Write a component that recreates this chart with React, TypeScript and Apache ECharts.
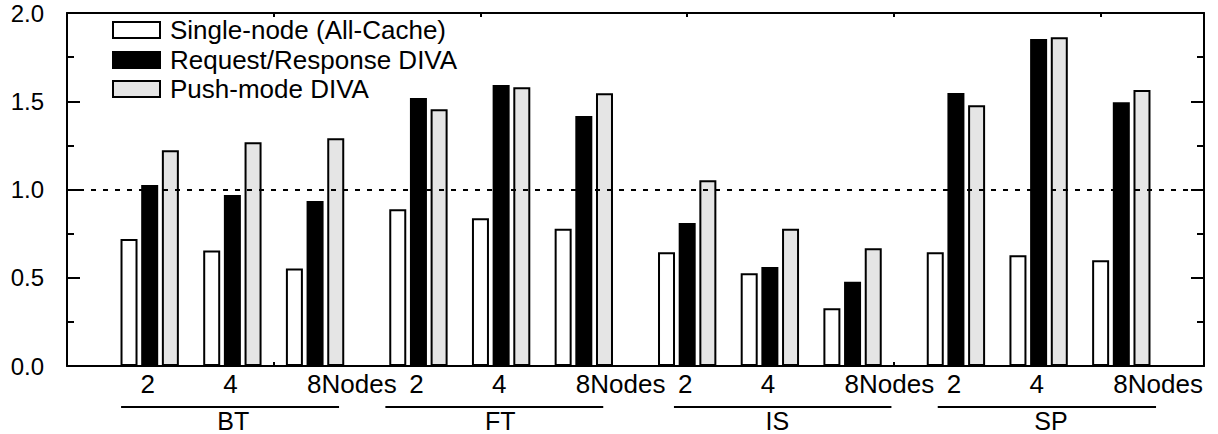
import React, { useEffect, useRef } from "react";
import * as echarts from "echarts";

// ---- data ----
const groups = ["BT", "FT", "IS", "SP"];
const nodeLabels = ["2", "4", "8Nodes"];
const seriesNames = ["Single-node (All-Cache)", "Request/Response DIVA", "Push-mode DIVA"];
const singleNode = [0.72, 0.655, 0.553, 0.888, 0.837, 0.778, 0.644, 0.525, 0.327, 0.644, 0.627, 0.599];
const requestResponse = [1.025, 0.969, 0.935, 1.518, 1.592, 1.416, 0.81, 0.561, 0.478, 1.547, 1.853, 1.494];
const pushMode = [1.222, 1.267, 1.29, 1.454, 1.579, 1.545, 1.052, 0.778, 0.667, 1.477, 1.862, 1.564];

// ---- layout (axis units) ----
const X_MIN = 0;
const X_MAX = 13.75;
const GROUP_STEP = 3.25;
const BAR_OFFSET = 0.25;
const groupSpans = [
  [0.654, 3.29, 2.01],
  [3.85, 6.485, 5.24],
  [7.34, 9.97, 8.59],
  [10.53, 13.17, 11.9],
];

const clusterPos = (i: number) => 1 + (i % 3) + Math.floor(i / 3) * GROUP_STEP;

const FONT = "'Liberation Sans', Arial, Helvetica, sans-serif";
const colors = ["#ffffff", "#000000", "#e5e5e5"];

export default function App() {
  const ref = useRef<HTMLDivElement>(null);

  useEffect(() => {
    if (!ref.current) return;
    const chart = echarts.init(ref.current, undefined, { renderer: "svg" });

    const allValues = [singleNode, requestResponse, pushMode];
    const offsets = [-BAR_OFFSET, 0, BAR_OFFSET];

    const barSeries: any[] = allValues.map((vals, s) => ({
      name: seriesNames[s],
      type: "bar",
      xAxisIndex: 0,
      yAxisIndex: 0,
      barWidth: 17,
      barGap: "-100%",
      itemStyle: { color: colors[s], borderColor: "#000", borderWidth: 2 },
      data: vals.map((v, i) => [clusterPos(i) + offsets[s], v]),
      z: 2,
    }));

    barSeries[2].markLine = {
      silent: true,
      symbol: "none",
      label: { show: false },
      lineStyle: { color: "#000", type: [5, 7], width: 2 },
      data: [{ yAxis: 1 }],
      z: 10,
    };

    const tickLabelData = singleNode.map((_, i) => [clusterPos(i), 0, i % 3]);

    const tickLabelSeries = {
      type: "custom",
      silent: true,
      clip: false,
      z: 20,
      encode: { x: 0, y: 1 },
      data: tickLabelData,
      renderItem: (params: any, api: any) => {
        const n = api.value(2);
        const p = api.coord([api.value(0), 0]);
        const isLast = n === 2;
        return {
          type: "text",
          x: isLast ? p[0] - 8 : p[0] - 2,
          y: p[1] + 18,
          style: {
            text: nodeLabels[n],
            fontSize: 26,
            fontFamily: FONT,
            fill: "#000",
            align: isLast ? "left" : "center",
            verticalAlign: "middle",
          },
        };
      },
    };

    const groupSeries = {
      type: "custom",
      silent: true,
      clip: false,
      z: 20,
      encode: { x: [0, 1, 2], y: 3 },
      data: groupSpans.map((g, i) => [g[0], g[1], g[2], 0, i]),
      renderItem: (params: any, api: any) => {
        const a = api.coord([api.value(0), 0]);
        const b = api.coord([api.value(1), 0]);
        const c = api.coord([api.value(2), 0]);
        const gi = api.value(4);
        return {
          type: "group",
          children: [
            {
              type: "line",
              shape: { x1: a[0], y1: a[1] + 41, x2: b[0], y2: a[1] + 41 },
              style: { stroke: "#000", lineWidth: 2 },
            },
            {
              type: "text",
              x: c[0],
              y: a[1] + 55,
              style: {
                text: groups[gi],
                fontSize: 25,
                fontFamily: FONT,
                fill: "#000",
                align: "center",
                verticalAlign: "middle",
              },
            },
          ],
        };
      },
    };

    const legendRows = [30, 60, 89];
    const legendGraphic: any[] = [];
    seriesNames.forEach((name, s) => {
      legendGraphic.push({
        type: "rect",
        shape: { x: 113, y: legendRows[s] - 8, width: 47, height: 16 },
        style: { fill: colors[s], stroke: "#000", lineWidth: 2 },
        z: 30,
      });
      legendGraphic.push({
        type: "text",
        x: 170,
        y: legendRows[s],
        style: {
          text: name,
          fontSize: 26,
          fontFamily: FONT,
          fill: "#000",
          verticalAlign: "middle",
        },
        z: 30,
      });
    });

    const axisLineStyle = { color: "#000", width: 2 };

    chart.setOption({
      animation: false,
      backgroundColor: "#fff",
      grid: { left: 67, right: 14, top: 13, bottom: 68, containLabel: false },
      xAxis: [
        {
          type: "value",
          min: X_MIN,
          max: X_MAX,
          interval: 2.5,
          position: "bottom",
          axisLine: { show: true, onZero: false, lineStyle: axisLineStyle },
          axisTick: { show: true, inside: true, length: 4, lineStyle: axisLineStyle },
          axisLabel: { show: false },
          splitLine: { show: false },
        },
        {
          type: "value",
          min: X_MIN,
          max: X_MAX,
          interval: 2.5,
          position: "top",
          axisLine: { show: true, onZero: false, lineStyle: axisLineStyle },
          axisTick: { show: true, inside: true, length: 4, lineStyle: axisLineStyle },
          axisLabel: { show: false },
          splitLine: { show: false },
        },
      ],
      yAxis: [
        {
          type: "value",
          min: 0,
          max: 2,
          interval: 0.5,
          position: "left",
          axisLine: { show: true, onZero: false, lineStyle: axisLineStyle },
          axisTick: { show: true, inside: true, length: 13, lineStyle: axisLineStyle },
          minorTick: { show: true, splitNumber: 2, length: 7, lineStyle: axisLineStyle },
          axisLabel: {
            show: true,
            margin: 23,
            fontSize: 24,
            fontFamily: FONT,
            color: "#000",
            formatter: (v: number) => v.toFixed(1),
          },
          splitLine: { show: false },
          minorSplitLine: { show: false },
        },
        {
          type: "value",
          min: 0,
          max: 2,
          interval: 0.5,
          position: "right",
          axisLine: { show: true, onZero: false, lineStyle: axisLineStyle },
          axisTick: { show: true, inside: true, length: 13, lineStyle: axisLineStyle },
          minorTick: { show: true, splitNumber: 2, length: 7, lineStyle: axisLineStyle },
          axisLabel: { show: false },
          splitLine: { show: false },
          minorSplitLine: { show: false },
        },
      ],
      series: [...barSeries, tickLabelSeries, groupSeries],
      graphic: legendGraphic,
    });

    return () => {
      chart.dispose();
    };
  }, []);

  return (
    <div
      ref={ref}
      style={{ position: "fixed", left: 0, top: 0, width: 1218, height: 434, background: "#fff" }}
    />
  );
}
